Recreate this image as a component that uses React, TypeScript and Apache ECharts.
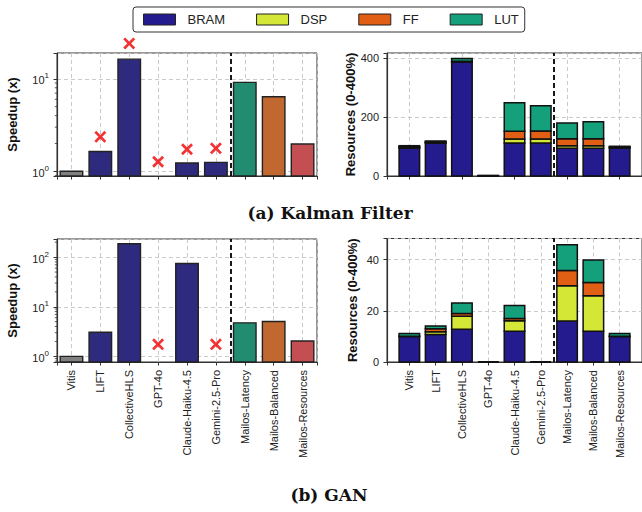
import React, { useEffect, useRef } from 'react';
import * as echarts from 'echarts';

const CATEGORIES = [
  'Vitis',
  'LIFT',
  'CollectiveHLS',
  'GPT-4o',
  'Claude-Haiku-4.5',
  'Gemini-2.5-Pro',
  'Mailos-Latency',
  'Mailos-Balanced',
  'Mailos-Resources',
];

// Speedup (log scale); null = no bar
const KALMAN_SPEEDUP = [1.0, 1.64, 16.3, null, 1.23, 1.25, 9.15, 6.4, 1.97];
const KALMAN_FAILED = [null, 2.36, 24.1, 1.27, 1.73, 1.77, null, null, null];
const GAN_SPEEDUP = [1.0, 3.07, 186, null, 74.6, null, 4.74, 5.05, 2.04];
const GAN_FAILED = [null, null, null, 1.75, null, 1.75, null, null, null];

const KALMAN_SPEEDUP_RANGE = [0.89, 19];
const GAN_SPEEDUP_RANGE = [0.77, 232];
const KALMAN_MINOR_TICKS = [0.9, 2, 3, 4, 5, 6, 7, 8, 9];
const GAN_MINOR_TICKS = [0.8, 0.9, 2, 3, 4, 5, 6, 7, 8, 9, 20, 30, 40, 50, 60, 70, 80, 90, 200];

// Resources (stacked)
const RESOURCE_TYPES = ['BRAM', 'DSP', 'FF', 'LUT'];
const KALMAN_BRAM = [95, 112, 387, 1, 112, 112, 94, 94, 95];
const KALMAN_DSP = [2, 2, 1, 0, 14, 14, 9, 9, 2];
const KALMAN_FF = [3, 2, 2, 0, 26, 27, 24, 24, 2];
const KALMAN_LUT = [3, 3, 9, 1, 97, 86, 53, 57, 2];
const GAN_BRAM = [10, 10.8, 12.8, 0, 12, 0, 16, 12, 10];
const GAN_DSP = [0, 1, 5.1, 0, 4.1, 0, 13.8, 13.9, 0];
const GAN_FF = [0.1, 1.2, 1.1, 0, 0.9, 0, 6, 5.2, 0.1];
const GAN_LUT = [1, 1.1, 4.1, 0, 5.1, 0, 10.1, 8.8, 1];
const KALMAN_RES_MAX = 418;
const GAN_RES_MAX = 48.3;
const KALMAN_RES_TICK = 200;
const GAN_RES_TICK = 20;

const DIVIDER_POS = 5.5;

// styles
const SPEEDUP_COLORS = ['#808080', '#2e2a7e', '#2e2a7e', '#2e2a7e', '#2e2a7e', '#2e2a7e', '#218c6f', '#c16830', '#c44f52'];
const RES_COLORS = ['#241b8f', '#d4e636', '#e05f14', '#13a07b'];
const FONT = '"Liberation Sans", Arial, sans-serif';
const TITLE_FONT = '"DejaVu Serif", "Liberation Serif", serif';
const AXIS_COLOR = '#333';
const TEXT_COLOR = '#222';
const X_PATH = 'path://M0,1.6L1.6,0L5,3.4L8.4,0L10,1.6L6.6,5L10,8.4L8.4,10L5,6.6L1.6,10L0,8.4L3.4,5Z';
const BAR_HALF = 0.39;

const splitLine = { show: true, lineStyle: { color: '#c4c4c4', type: [4, 3], width: 0.9 } };

function xAxis(gridIndex: number, min: number, max: number, splitNumber: number, showLabels: boolean) {
  return {
    type: 'value',
    gridIndex,
    min,
    max,
    splitNumber,
    axisLine: { show: true, onZero: false, lineStyle: { color: AXIS_COLOR, width: 1.2 } },
    axisTick: { show: true, length: 3.5, lineStyle: { color: AXIS_COLOR, width: 1 } },
    axisLabel: {
      show: showLabels,
      rotate: 90,
      fontSize: 11,
      fontFamily: FONT,
      color: TEXT_COLOR,
      margin: 8,
      formatter: (v: number) => (Number.isInteger(v) && CATEGORIES[v] ? CATEGORIES[v] : ''),
    },
    splitLine,
  };
}

function logYAxis(gridIndex: number, range: number[]) {
  return {
    type: 'log',
    logBase: 10,
    gridIndex,
    min: range[0],
    max: range[1],
    name: 'Speedup (x)',
    nameLocation: 'middle',
    nameGap: 38,
    nameTextStyle: { fontSize: 13, fontWeight: 'bold', fontFamily: FONT, color: '#111' },
    axisLine: { show: true, onZero: false, lineStyle: { color: AXIS_COLOR, width: 1.2 } },
    axisTick: { show: true, length: 3.5, lineStyle: { color: AXIS_COLOR, width: 1 } },
    axisLabel: {
      margin: 8,
      formatter: (v: number) => {
        const e = Math.round(Math.log10(v));
        const p = Math.pow(10, e);
        return Math.abs(v - p) < 1e-6 * p ? `{b|10}{s|${e}}` : '';
      },
      rich: {
        b: { fontSize: 11, fontFamily: FONT, color: TEXT_COLOR, verticalAlign: 'bottom', lineHeight: 14 },
        s: { fontSize: 8, fontFamily: FONT, color: TEXT_COLOR, verticalAlign: 'top', lineHeight: 14 },
      },
    },
    splitLine,
  };
}

function resYAxis(gridIndex: number, max: number, interval: number) {
  return {
    type: 'value',
    gridIndex,
    min: 0,
    max,
    interval,
    name: 'Resources (0-400%)',
    nameLocation: 'middle',
    nameGap: 28,
    nameTextStyle: { fontSize: 13, fontWeight: 'bold', fontFamily: FONT, color: '#111' },
    axisLine: { show: true, onZero: false, lineStyle: { color: AXIS_COLOR, width: 1.2 } },
    axisTick: { show: true, length: 3.5, lineStyle: { color: AXIS_COLOR, width: 1 } },
    axisLabel: {
      fontSize: 11,
      fontFamily: FONT,
      color: TEXT_COLOR,
      margin: 8,
      formatter: (v: number) => (Math.abs(v / interval - Math.round(v / interval)) < 1e-9 ? String(v) : ''),
    },
    splitLine,
  };
}

function speedupBars(values: (number | null)[], axisIndex: number, yMin: number) {
  const data = values.map((v, i) => (v == null ? null : [i, v])).filter((d) => d !== null);
  return {
    type: 'custom',
    xAxisIndex: axisIndex,
    yAxisIndex: axisIndex,
    clip: false,
    silent: true,
    z: 3,
    data,
    renderItem: (params: any, api: any) => {
      const i = api.value(0);
      const v = api.value(1);
      const l = api.coord([i - BAR_HALF, v]);
      const r = api.coord([i + BAR_HALF, v]);
      const b = api.coord([i, yMin]);
      return {
        type: 'rect',
        shape: { x: l[0], y: l[1], width: r[0] - l[0], height: b[1] - l[1] },
        style: { fill: SPEEDUP_COLORS[i], stroke: '#222', lineWidth: 1.4 },
      };
    },
  };
}

function minorTicks(values: number[], axisIndex: number, xMin: number) {
  return {
    type: 'custom',
    xAxisIndex: axisIndex,
    yAxisIndex: axisIndex,
    clip: false,
    silent: true,
    data: values.map((v) => [xMin, v]),
    renderItem: (params: any, api: any) => {
      const p = api.coord([api.value(0), api.value(1)]);
      return {
        type: 'line',
        shape: { x1: p[0] - 2.2, y1: p[1], x2: p[0], y2: p[1] },
        style: { stroke: AXIS_COLOR, lineWidth: 0.8 },
      };
    },
  };
}

const dividerMarkLine = {
  silent: true,
  symbol: ['none', 'none'],
  label: { show: false },
  lineStyle: { color: '#000', type: [5, 3], width: 1.8 },
  data: [{ xAxis: DIVIDER_POS }],
};

function failMarks(values: (number | null)[], axisIndex: number) {
  const data = values.map((v, i) => (v == null ? null : [i, v])).filter((d) => d !== null);
  return {
    type: 'scatter',
    xAxisIndex: axisIndex,
    yAxisIndex: axisIndex,
    clip: false,
    silent: true,
    z: 5,
    symbol: X_PATH,
    symbolSize: 12,
    itemStyle: { color: '#f00000' },
    data,
    markLine: dividerMarkLine,
  };
}

// stacked resource bars: each type is a custom series drawn from its cumulative base
function resourceSeries(axisIndex: number, rows: number[][]) {
  return rows.map((row, k) => ({
    type: 'custom',
    name: RESOURCE_TYPES[k],
    xAxisIndex: axisIndex,
    yAxisIndex: axisIndex,
    silent: true,
    z: 3,
    itemStyle: { color: RES_COLORS[k], borderColor: '#111', borderWidth: 1.5 },
    data: row.map((v, i) => {
      let base = 0;
      for (let j = 0; j < k; j++) base += rows[j][i];
      return [i, base, v];
    }),
    renderItem: (params: any, api: any) => {
      const i = api.value(0);
      const base = api.value(1);
      const v = api.value(2);
      const lt = api.coord([i - BAR_HALF, base + v]);
      const rb = api.coord([i + BAR_HALF, base]);
      return {
        type: 'rect',
        shape: { x: lt[0], y: lt[1], width: rb[0] - lt[0], height: rb[1] - lt[1] },
        style: { fill: RES_COLORS[k], stroke: '#111', lineWidth: 1.5 },
      };
    },
    encode: { x: 0, y: [1, 2] },
    ...(k === 0 ? { markLine: dividerMarkLine } : {}),
  }));
}

function buildOption() {
  const titleStyle = { fontFamily: TITLE_FONT, fontWeight: 'bold', fontSize: 17, color: '#111' };
  return {
    animation: false,
    backgroundColor: '#fff',
    title: [
      { text: '(a) Kalman Filter', left: 325, top: 199, textAlign: 'center', textStyle: titleStyle },
      { text: '(b) GAN', left: 324, top: 481, textAlign: 'center', textStyle: titleStyle },
    ],
    legend: {
      data: RESOURCE_TYPES,
      left: 133,
      top: 7,
      orient: 'horizontal',
      icon: 'rect',
      itemWidth: 32,
      itemHeight: 11,
      itemGap: 31,
      padding: [6, 6, 6, 10],
      borderColor: '#333',
      borderWidth: 1,
      borderRadius: 3,
      itemStyle: { borderColor: '#222', borderWidth: 1 },
      textStyle: { fontSize: 13, fontFamily: FONT, color: TEXT_COLOR, padding: [0, 0, 0, 7] },
      selectedMode: false,
    },
    grid: [
      { left: 57, top: 53, width: 260, height: 123, show: true, borderColor: AXIS_COLOR, borderWidth: 1 },
      { left: 387, top: 53, width: 260, height: 123, show: true, borderColor: AXIS_COLOR, borderWidth: 1 },
      { left: 57, top: 239, width: 260, height: 123, show: true, borderColor: AXIS_COLOR, borderWidth: 1 },
      { left: 387, top: 238.5, width: 260, height: 123.5, show: true, borderColor: AXIS_COLOR, borderWidth: 1 },
    ],
    xAxis: [
      xAxis(0, -0.5, 8.5, 9, false),
      xAxis(1, -0.85, 8.85, 5, false),
      xAxis(2, -0.5, 8.5, 9, true),
      xAxis(3, -0.85, 8.85, 9, true),
    ],
    yAxis: [
      logYAxis(0, KALMAN_SPEEDUP_RANGE),
      resYAxis(1, KALMAN_RES_MAX, KALMAN_RES_TICK),
      logYAxis(2, GAN_SPEEDUP_RANGE),
      resYAxis(3, GAN_RES_MAX, GAN_RES_TICK),
    ],
    series: [
      speedupBars(KALMAN_SPEEDUP, 0, KALMAN_SPEEDUP_RANGE[0]),
      minorTicks(KALMAN_MINOR_TICKS, 0, -0.5),
      failMarks(KALMAN_FAILED, 0),
      ...resourceSeries(1, [KALMAN_BRAM, KALMAN_DSP, KALMAN_FF, KALMAN_LUT]),
      speedupBars(GAN_SPEEDUP, 2, GAN_SPEEDUP_RANGE[0]),
      minorTicks(GAN_MINOR_TICKS, 2, -0.5),
      failMarks(GAN_FAILED, 2),
      ...resourceSeries(3, [GAN_BRAM, GAN_DSP, GAN_FF, GAN_LUT]),
    ],
  };
}

export default function App() {
  const ref = useRef<HTMLDivElement>(null);
  useEffect(() => {
    if (!ref.current) return;
    const chart = echarts.init(ref.current, undefined, { renderer: 'svg' });
    chart.setOption(buildOption() as any);
    return () => chart.dispose();
  }, []);
  return (
    <div
      ref={ref}
      style={{ position: 'fixed', left: 0, top: 0, width: 642, height: 512, background: '#fff' }}
    />
  );
}
